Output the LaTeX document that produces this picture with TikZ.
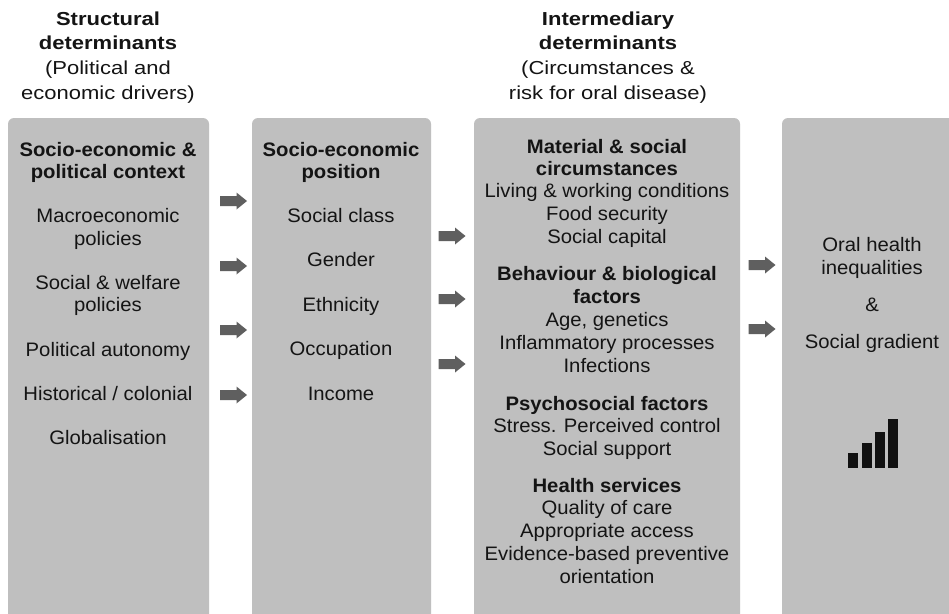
\documentclass[tikz,border=0pt]{standalone}
\usepackage{fontspec}
\setmainfont{Liberation Sans}[FakeStretch=1.04]
\newfontfamily\headfont{Liberation Sans}[FakeStretch=1.17]
\usetikzlibrary{positioning}
\definecolor{boxgray}{HTML}{BFBFBF}
\definecolor{arrowgray}{HTML}{5F5F5F}
\definecolor{txt}{HTML}{141414}
\definecolor{barblack}{HTML}{111111}
\tikzset{
  panel/.style={fill=boxgray, draw=none, rounded corners=6pt},
  ln/.style={anchor=base, text=txt, inner sep=0pt, font=\fontsize{19.5}{23}\selectfont},
  hd/.style={ln, font=\fontsize{19.5}{23}\selectfont\bfseries},
  tln/.style={anchor=base, text=txt, inner sep=0pt, font=\headfont\fontsize{18.8}{24}\selectfont},
  thd/.style={tln, font=\headfont\fontsize{18.8}{24}\selectfont\bfseries},
  bar/.style={fill=barblack, draw=none},
}
\newcommand{\blockarrow}[3]{% name, x center, y center
  \fill[arrowgray] (#2-13.5,#3-5) -- (#2+3,#3-5) -- (#2+3,#3-8.5) -- (#2+13.5,#3) -- (#2+3,#3+8.5) -- (#2+3,#3+5) -- (#2-13.5,#3+5) -- cycle;
  \coordinate (#1) at (#2,#3);
}
\begin{document}
\begin{tikzpicture}[x=1pt,y=-1pt]
\useasboundingbox (0,0) rectangle (949,613);
\fill[white] (0,0) rectangle (949,613);

% panels
\path[panel] (8,118) rectangle (209,630);
\path[panel] (252,118) rectangle (431,630);
\path[panel] (474,118) rectangle (740,630);
\path[panel] (782,118) rectangle (960,630);

% top headings
\node[thd] (s1) at (108,25) {Structural};
\node[thd] (s2) at (108,49.5) {determinants};
\node[tln] (s3) at (108,74) {(Political and};
\node[tln] (s4) at (108,99) {economic drivers)};

\node[thd] (i1) at (608,25) {Intermediary};
\node[thd] (i2) at (608,49.5) {determinants};
\node[tln] (i3) at (608,74) {(Circumstances \&};
\node[tln] (i4) at (608,99) {risk for oral disease)};

% box 1
\node[hd] (a1) at (108,156) {Socio-economic \&};
\node[hd] (a2) at (108,178) {political context};
\node[ln] (a3) at (108,222) {Macroeconomic};
\node[ln] (a4) at (108,245) {policies};
\node[ln] (a5) at (108,289) {Social \& welfare};
\node[ln] (a6) at (108,311) {policies};
\node[ln] (a7) at (108,356) {Political autonomy};
\node[ln] (a8) at (108,400) {Historical / colonial};
\node[ln] (a9) at (108,444) {Globalisation};

% box 2
\node[hd] (b1) at (341,156) {Socio-economic};
\node[hd] (b2) at (341,178) {position};
\node[ln] (b3) at (341,222) {Social class};
\node[ln] (b4) at (341,266) {Gender};
\node[ln] (b5) at (341,311) {Ethnicity};
\node[ln] (b6) at (341,355) {Occupation};
\node[ln] (b7) at (341,400) {Income};

% box 3
\node[hd] (c1) at (607,153.5) {Material \& social};
\node[hd] (c2) at (607,175) {circumstances};
\node[ln] (c3) at (607,197) {Living \& working conditions};
\node[ln] (c4) at (607,220) {Food security};
\node[ln] (c5) at (607,243) {Social capital};
\node[hd] (c6) at (607,280) {Behaviour \& biological};
\node[hd] (c7) at (607,303) {factors};
\node[ln] (c8) at (607,326) {Age, genetics};
\node[ln] (c9) at (607,349) {Inflammatory processes};
\node[ln] (c10) at (607,372) {Infections};
\node[hd] (c11) at (607,410) {Psychosocial factors};
\node[ln] (c12) at (607,432) {Stress. Perceived control};
\node[ln] (c13) at (607,455) {Social support};
\node[hd] (c14) at (607,492) {Health services};
\node[ln] (c15) at (607,514) {Quality of care};
\node[ln] (c16) at (607,537) {Appropriate access};
\node[ln] (c17) at (607,560) {Evidence-based preventive};
\node[ln] (c18) at (607,583) {orientation};

% box 4
\node[ln] (d1) at (872,251) {Oral health};
\node[ln] (d2) at (872,274) {inequalities};
\node[ln] (d3) at (872,311) {\&};
\node[ln] (d4) at (872,348) {Social gradient};

% bar icon
\fill[bar] (848,453) rectangle (858,468);
\fill[bar] (862,443) rectangle (872,468);
\fill[bar] (875,432) rectangle (885,468);
\fill[bar] (888,419) rectangle (898,468);

% arrows
\blockarrow{p1}{233.5}{201}
\blockarrow{p2}{233.5}{266}
\blockarrow{p3}{233.5}{330}
\blockarrow{p4}{233.5}{395}
\blockarrow{q1}{452}{236}
\blockarrow{q2}{452}{299}
\blockarrow{q3}{452}{364}
\blockarrow{r1}{762}{265}
\blockarrow{r2}{762}{329}
\end{tikzpicture}
\end{document}
